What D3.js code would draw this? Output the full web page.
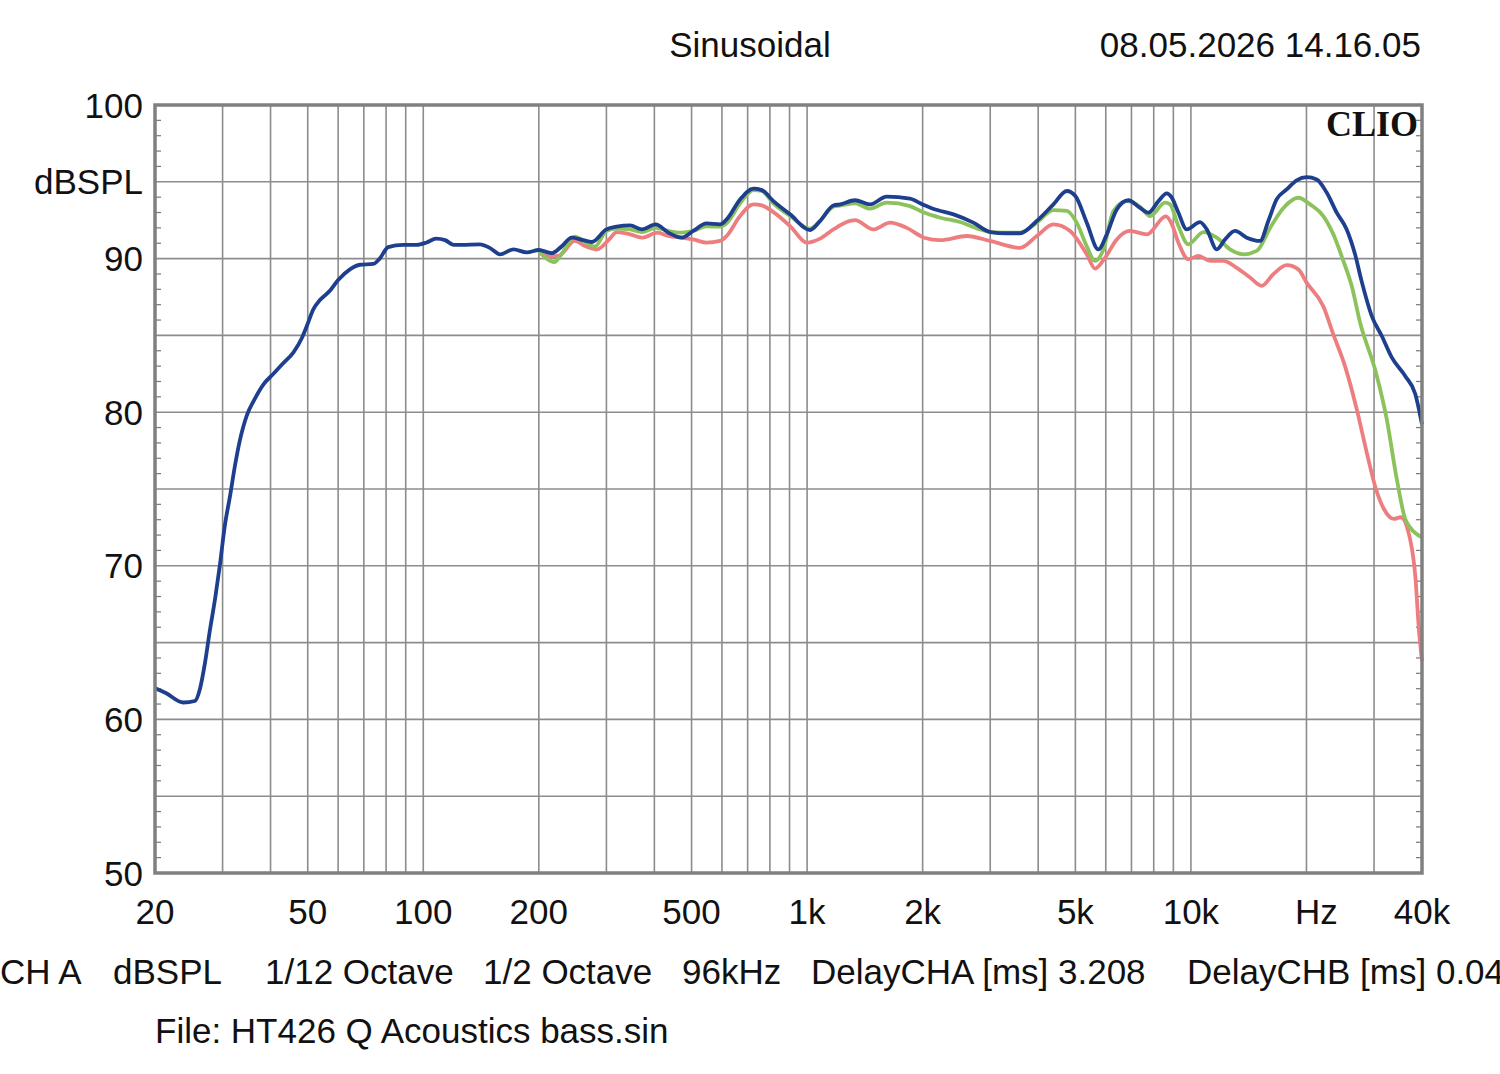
<!DOCTYPE html>
<html><head><meta charset="utf-8">
<script src="https://cdn.jsdelivr.net/npm/d3@7"></script>
<style>
body{margin:0;background:#fff;}
svg{display:block;}
text{font-family:"Liberation Sans",Arial,sans-serif;fill:#111;}
</style></head>
<body>
<svg id="chart" width="1500" height="1074"></svg>
<script>
// ---- Data ----
const blueFreq = [20,21.4,23.7,25.4,26.2,27,27.8,28.7,29.5,30.4,31.4,32.3,33.3,34.7,36.1,38.3,40.7,43.2,45.9,48.2,49.7,51.7,53.8,57.1,60,64.4,68.4,74,77,81,88.7,96,102,108,114,120,126,140.5,149,158.5,171.7,186,200,216,229,243.7,261,274.6,300,319,346,371,403,435,471,505,547,593,617,669,725,762,817,903,1018,1081,1171,1219,1333,1459,1612,1854,2000,2183,2407,2711,3000,3312,3588,3966,4383,4749,5000,5353,5740,6036,6408,6871,7370,7751,8230,8650,8900,9274,9750,10563,11000,11675,12275,13030,13980,15140,15910,16720,17760,18860,20040,21270,22580,23980,25460,26770,27800,29600,31430,33390,36160,38400,40000];
const blueDb = [62.05,61.7,61.1,61.2,62.0,63.7,65.8,67.9,70.0,72.6,74.6,76.5,78.2,79.8,80.7,81.8,82.5,83.2,83.9,84.8,85.6,86.7,87.3,87.9,88.6,89.3,89.6,89.65,90.0,90.75,90.9,90.9,91.05,91.3,91.2,90.9,90.9,90.93,90.7,90.28,90.6,90.4,90.56,90.35,90.78,91.36,91.2,91.08,91.9,92.08,92.16,91.9,92.23,91.69,91.36,91.8,92.29,92.23,92.55,93.85,94.55,94.46,93.74,92.88,91.86,92.45,93.46,93.53,93.8,93.53,94.03,93.9,93.53,93.16,92.88,92.34,91.73,91.65,91.65,92.45,93.53,94.4,94.07,92.34,90.6,91.58,93.2,93.8,93.3,92.99,93.74,94.25,94.0,93.0,91.9,92.38,91.9,90.6,91.25,91.8,91.36,91.15,92.45,93.85,94.5,95.1,95.3,95.15,94.3,92.99,91.9,90.28,88.6,86.26,84.96,83.55,82.36,81.2,79.2];

const greenFreq = [200,208,220,229,248,265,280,300,319,346,371,403,435,471,505,547,593,617,669,725,762,817,903,1018,1081,1171,1219,1333,1459,1612,1854,2000,2224,2504,2821,3000,3588,3966,4383,4749,5040,5353,5626,5917,6281,6805,7370,7829,8566,8822,9274,9850,10780,11675,12650,13700,14840,16080,17420,19050,20440,22130,23500,24950,26230,27600,30340,32370,34380,36160,37230,40000];
const greenDb = [90.5,90.06,89.78,90.28,91.43,91.04,90.78,91.8,91.95,91.9,91.73,92.0,91.8,91.69,91.8,92.1,92.08,92.3,93.6,94.46,94.4,93.6,92.77,91.95,92.45,93.38,93.45,93.6,93.25,93.64,93.42,93.03,92.66,92.38,91.9,91.73,91.69,92.34,93.16,93.1,92.34,90.8,89.85,90.6,93.1,93.74,93.38,92.77,93.64,93.53,92.12,90.93,91.73,91.36,90.6,90.28,90.5,92.0,93.3,93.96,93.53,92.77,91.58,89.85,88.23,85.82,82.58,79.55,75.65,73.05,72.5,71.85];

const redFreq = [200,212,226,248,265,284,305,319,346,371,408,435,471,505,547,593,617,669,725,762,817,903,1000,1081,1171,1294,1333,1488,1644,1818,2018,2224,2605,3000,3588,3966,4383,4845,5353,5626,5976,6408,6940,7675,8600,8900,9274,9850,10460,11220,12150,13160,14260,15290,16390,17760,19050,20040,22130,23500,25200,27040,28710,30340,31830,33800,35180,37230,38480,39250,40000];
const redDb = [90.4,90.13,90.2,91.15,90.8,90.6,91.25,91.73,91.58,91.36,91.69,91.47,91.36,91.25,91.04,91.15,91.47,92.77,93.53,93.46,93.03,92.12,91.04,91.3,91.9,92.45,92.5,91.9,92.34,92.0,91.36,91.2,91.47,91.15,90.7,91.47,92.23,91.8,90.28,89.35,90.06,91.25,91.8,91.58,92.75,92.3,91.04,89.96,90.17,89.85,89.85,89.4,88.77,88.23,88.98,89.57,89.3,88.42,86.9,85.06,83.0,80.2,77.38,75.0,73.7,73.05,73.16,71.75,69.15,65.9,63.8];

const xTickValues = [20,50,100,200,500,1000,2000,5000,10000,20000,40000];
const xTickLabels = ["20","50","100","200","500","1k","2k","5k","10k","Hz","40k"];
const xGridValues = [30,40,50,60,70,80,90,100,200,300,400,500,600,700,800,900,1000,2000,3000,4000,5000,6000,7000,8000,9000,10000,20000,30000];
const yTickValues = [100,95,90,80,70,60,50];
const yTickLabels = ["100","dBSPL","90","80","70","60","50"];
const footerItems = ["CH A","dBSPL","1/12 Octave","1/2 Octave","96kHz","DelayCHA [ms] 3.208","DelayCHB [ms] 0.04"];
const footerX = [0,113,265,483,682,811,1187];

// ---- Layout ----
const L=155, R=1422, T=105, B=873;
const FS=35;
const svg = d3.select("#chart");
const x = d3.scaleLog().domain([20,40000]).range([L,R]);
const y = d3.scaleLinear().domain([50,100]).range([B,T]);
const gridColor = "#8c8c8c";

// grid
svg.append("g").selectAll("line").data(xGridValues).join("line")
  .attr("x1",d=>x(d)).attr("x2",d=>x(d)).attr("y1",T).attr("y2",B)
  .attr("stroke",gridColor).attr("stroke-width",1.6);
svg.append("g").selectAll("line").data(d3.range(55,100,5)).join("line")
  .attr("x1",L).attr("x2",R).attr("y1",d=>y(d)).attr("y2",d=>y(d))
  .attr("stroke",gridColor).attr("stroke-width",1.6);
// minor ticks every 1 dB on left & right
const minor = d3.range(51,100).filter(d=>d%5!==0);
svg.append("g").selectAll("line").data(minor).join("line")
  .attr("x1",L).attr("x2",L+6).attr("y1",d=>y(d)).attr("y2",d=>y(d))
  .attr("stroke","#777").attr("stroke-width",1.2);
svg.append("g").selectAll("line").data(minor).join("line")
  .attr("x1",R-6).attr("x2",R).attr("y1",d=>y(d)).attr("y2",d=>y(d))
  .attr("stroke","#777").attr("stroke-width",1.2);

// curves
const line = d3.line().x(d=>x(d[0])).y(d=>y(d[1])).curve(d3.curveMonotoneX);
const series = [
  {f:redFreq, v:redDb, c:"#ee7d80"},
  {f:greenFreq, v:greenDb, c:"#8cc25c"},
  {f:blueFreq, v:blueDb, c:"#1d3f8e"}
];
series.forEach(s=>{
  svg.append("path").datum(s.f.map((f,i)=>[f,s.v[i]]))
    .attr("d",line).attr("fill","none").attr("stroke",s.c)
    .attr("stroke-width",3.8).attr("stroke-linejoin","round");
});

// frame
svg.append("rect").attr("x",L).attr("y",T).attr("width",R-L).attr("height",B-T)
  .attr("fill","none").attr("stroke","#808080").attr("stroke-width",3.5);

// y labels
svg.append("g").selectAll("text").data(yTickValues).join("text")
  .attr("x",143).attr("y",d=>y(d)).attr("dy","0.36em")
  .attr("text-anchor","end").attr("font-size",FS)
  .text((d,i)=>yTickLabels[i]);

// x labels
svg.append("g").selectAll("text").data(xTickValues).join("text")
  .attr("x",(d,i)=> xTickLabels[i]==="Hz" ? x(d)+10 : x(d)).attr("y",911).attr("dy","0.36em")
  .attr("text-anchor","middle").attr("font-size",FS)
  .text((d,i)=>xTickLabels[i]);

// title texts
svg.append("text").attr("x",750).attr("y",44).attr("dy","0.36em")
  .attr("text-anchor","middle").attr("font-size",FS).text("Sinusoidal");
svg.append("text").attr("x",1421).attr("y",44).attr("dy","0.36em")
  .attr("text-anchor","end").attr("font-size",FS).text("08.05.2026 14.16.05");

// CLIO logo
svg.append("text").attr("x",1418).attr("y",123).attr("dy","0.36em")
  .attr("text-anchor","end").attr("font-size",36).attr("font-weight","bold")
  .style("font-family","'Liberation Serif','DejaVu Serif',serif").text("CLIO");

// footer
svg.append("g").selectAll("text").data(footerItems).join("text")
  .attr("x",(d,i)=>footerX[i]).attr("y",971).attr("dy","0.36em")
  .attr("font-size",FS).text(d=>d);
svg.append("text").attr("x",155).attr("y",1030).attr("dy","0.36em")
  .attr("font-size",FS).text("File: HT426 Q Acoustics bass.sin");
</script>
</body></html>
